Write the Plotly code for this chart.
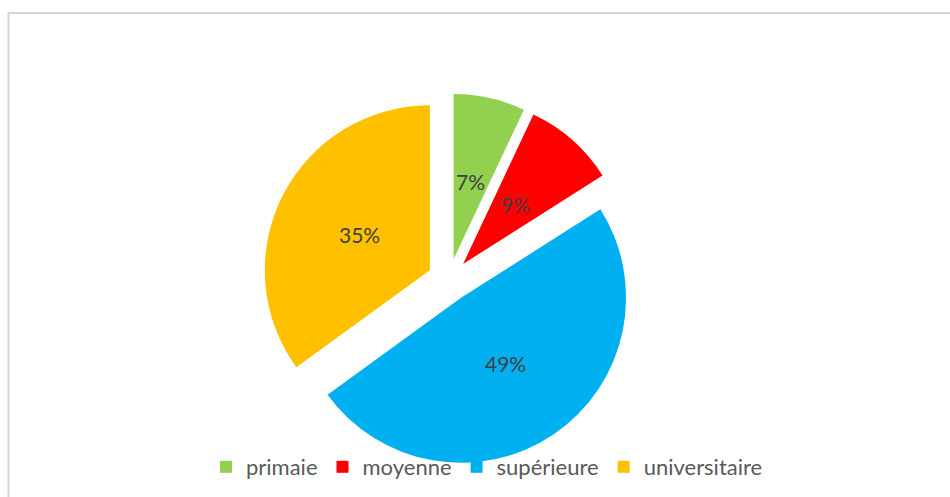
import math
import plotly.graph_objects as go

# Niveau d'instruction : part de chaque catégorie
categories = ["primaie", "moyenne", "supérieure", "universitaire"]
shares = [7, 9, 49, 35]
slice_colors = ["#92D050", "#FF0000", "#00B0F0", "#FFC000"]

W, H = 950, 497
PULL = 0.13
DOMAIN_X = [0.2763, 0.6689]
DOMAIN_Y = [0.0613, 0.812]
LABEL_FONT = dict(family="Lato, Open Sans, sans-serif", size=21, color="#404040")

fig = go.Figure(
    go.Pie(
        labels=categories,
        values=shares,
        marker=dict(colors=slice_colors, line=dict(width=0)),
        sort=False,
        direction="clockwise",
        rotation=0,
        pull=[PULL] * len(shares),
        textinfo="none",
        hoverinfo="label+percent",
        domain=dict(x=DOMAIN_X, y=DOMAIN_Y),
    )
)

# étiquettes de pourcentage, posées à mi-rayon sur l'angle médian de chaque part
cx = W * sum(DOMAIN_X) / 2
cy = H * (1 - sum(DOMAIN_Y) / 2)
box = min(W * (DOMAIN_X[1] - DOMAIN_X[0]), H * (DOMAIN_Y[1] - DOMAIN_Y[0]))
radius = box / (2 + 2 * PULL)
total = sum(shares)
cum = 0
for v in shares:
    mid = 2 * math.pi * (cum + v / 2) / total
    cum += v
    dist = radius * (PULL + 0.48)
    px = cx + dist * math.sin(mid)
    py = cy - dist * math.cos(mid)
    fig.add_annotation(
        x=px / W, y=1 - py / H, xref="paper", yref="paper",
        text=f"{v}%", showarrow=False, font=LABEL_FONT,
        xanchor="center", yanchor="middle",
    )

# cadre gris clair autour de la zone du graphique
fig.add_shape(
    type="rect", xref="paper", yref="paper",
    x0=8.5 / W, x1=1.02, y0=-0.05, y1=1 - 13 / H,
    line=dict(color="#d6d6d6", width=2), fillcolor="rgba(0,0,0,0)",
    layer="below",
)

fig.update_layout(
    width=W, height=H,
    margin=dict(l=0, r=0, t=0, b=0),
    paper_bgcolor="white",
    plot_bgcolor="white",
    showlegend=True,
    legend=dict(
        orientation="h",
        x=0.5126, xanchor="center",
        y=1 - 467 / H, yanchor="middle",
        font=dict(family="Lato, Open Sans, sans-serif", size=22, color="#595959"),
        bgcolor="rgba(0,0,0,0)",
        traceorder="normal",
    ),
)

fig.write_html("out.html")
